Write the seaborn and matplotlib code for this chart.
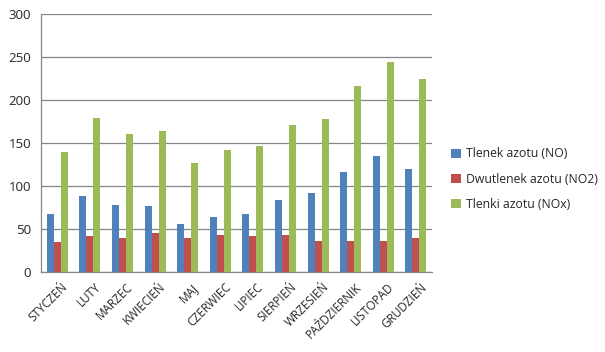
import pandas as pd
import matplotlib.pyplot as plt
import matplotlib.transforms as mtransforms
import seaborn as sns
import numpy as np

miesiace = ['STYCZEŃ', 'LUTY', 'MARZEC', 'KWIECIEŃ', 'MAJ', 'CZERWIEC',
            'LIPIEC', 'SIERPIEŃ', 'WRZESIEŃ', 'PAŹDZIERNIK', 'LISTOPAD', 'GRUDZIEŃ']
no = [68, 89, 78, 77, 56, 64, 67, 84, 92, 116, 135, 120]
no2 = [35, 42, 40, 46, 40, 43, 42, 43, 36, 36, 36, 40]
nox = [140, 179, 161, 164, 127, 142, 147, 171, 178, 216, 244, 224]
serie = ['Tlenek azotu (NO)', 'Dwutlenek azotu (NO2)', 'Tlenki azotu (NOx)']
kolory = ['#4F81BD', '#C0504D', '#9BBB59']

df = pd.DataFrame({'miesiac': miesiace, serie[0]: no, serie[1]: no2, serie[2]: nox})
df_long = df.melt(id_vars='miesiac', var_name='seria', value_name='wartosc')

sns.set_style('white')
plt.rcParams['font.family'] = ['Open Sans', 'DejaVu Sans']

fig = plt.figure(figsize=(6.05, 3.52), dpi=100)
ax = fig.add_axes([0.0678, 0.227, 0.6465, 0.733])

sns.barplot(data=df_long, x='miesiac', y='wartosc', hue='seria',
            palette=kolory, width=0.645, gap=0, saturation=1, linewidth=0,
            ax=ax, zorder=3)

ax.set_ylim(0, 300)
ax.set_xlim(-0.5, len(miesiace) - 0.5)
ax.set_yticks(np.arange(0, 301, 50))
ax.yaxis.grid(True, color='#868686', linewidth=0.9, zorder=0)
ax.set_xlabel('')
ax.set_ylabel('')

for s in ['top', 'right']:
    ax.spines[s].set_visible(False)
for s in ['left', 'bottom']:
    ax.spines[s].set_color('#868686')
    ax.spines[s].set_linewidth(0.9)

# znaczniki między kategoriami
ax.set_xticks(np.arange(-0.5, len(miesiace)), minor=True)
ax.tick_params(axis='x', which='minor', length=4, color='#868686', width=0.9)
ax.tick_params(axis='x', which='major', length=0, labelsize=8.5, pad=6)
ax.tick_params(axis='y', length=4, color='#868686', width=0.9, labelsize=9.5, pad=3)
ax.set_xticks(range(len(miesiace)))
ax.set_xticklabels(miesiace, rotation=45, ha='right', rotation_mode='anchor')
przesun = mtransforms.ScaledTranslation(4 / 100, 0, fig.dpi_scale_trans)
for lbl in ax.get_xticklabels():
    lbl.set_transform(lbl.get_transform() + przesun)

leg = ax.legend(loc='center left', bbox_to_anchor=(1.02, 0.36), frameon=False,
                fontsize=8.8, handlelength=0.8, handleheight=0.8,
                handletextpad=0.4, labelspacing=1.0)

fig.savefig('out.png', dpi=100)
